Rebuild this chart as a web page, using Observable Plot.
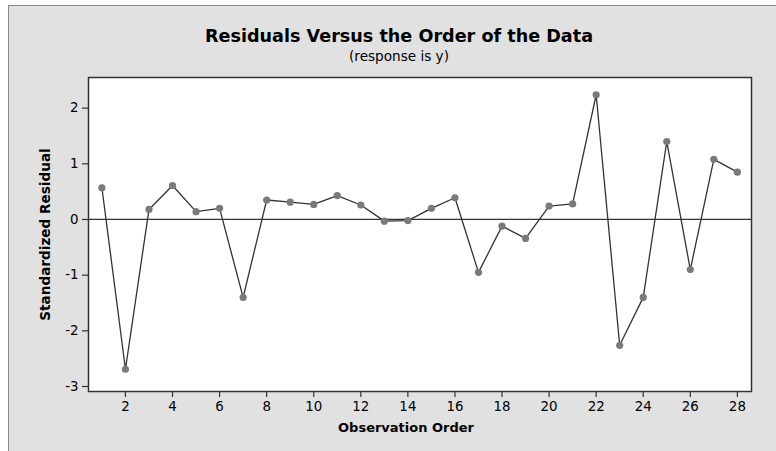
<!DOCTYPE html>
<html>
<head>
<meta charset="utf-8">
<script src="https://cdn.jsdelivr.net/npm/d3@7"></script>
<script src="https://cdn.jsdelivr.net/npm/@observablehq/plot@0.6"></script>
<style>
  html, body { margin: 0; padding: 0; background: #ffffff; overflow: hidden; }
  #frame {
    position: absolute; left: 8px; top: 5px; width: 780px; height: 460px;
    background: #e1e1e1; border-left: 1px solid #8a8a8a; border-top: 1px solid #8a8a8a;
    font-family: "DejaVu Sans", Verdana, sans-serif;
  }
  #titles { height: 60px; position: relative; width: 780px; }
  #title { position: absolute; top: 20px; width: 780px; text-align: center; font-weight: bold; font-size: 17.6px; color: #000; }
  #subtitle { position: absolute; top: 42px; width: 780px; text-align: center; font-size: 13.6px; color: #000; }
  #chart svg { display: block; }
</style>
</head>
<body>
<div id="frame">
  <div id="titles">
    <div id="title">Residuals Versus the Order of the Data</div>
    <div id="subtitle">(response is y)</div>
  </div>
  <div id="chart"></div>
</div>
<script>
const order = [1,2,3,4,5,6,7,8,9,10,11,12,13,14,15,16,17,18,19,20,21,22,23,24,25,26,27,28];
const residual = [0.57,-2.69,0.18,0.61,0.14,0.20,-1.40,0.35,0.31,0.27,0.43,0.26,-0.03,-0.02,0.20,0.39,-0.95,-0.12,-0.34,0.24,0.28,2.24,-2.26,-1.40,1.40,-0.90,1.08,0.85];
const xTicks = [2,4,6,8,10,12,14,16,18,20,22,24,26,28];
const yTicks = [-3,-2,-1,0,1,2];
const xLabel = "Observation Order";
const yLabel = "Standardized Residual";

const data = order.map((o, i) => ({order: o, residual: residual[i]}));

const chart = Plot.plot({
  width: 767,
  height: 380,
  marginLeft: 79,
  marginRight: 25,
  marginTop: 11,
  marginBottom: 55,
  style: {fontFamily: "'DejaVu Sans', Verdana, sans-serif", fontSize: "13px", background: "transparent", color: "#000"},
  x: {domain: [0.43, 28.6]},
  y: {domain: [-3.09, 2.55]},
  marks: [
    Plot.frame({fill: "white", stroke: "none"}),
    Plot.ruleY([0], {stroke: "#333", strokeWidth: 1.2}),
    Plot.line(data, {x: "order", y: "residual", stroke: "#333", strokeWidth: 1.3}),
    Plot.dot(data, {x: "order", y: "residual", r: 3.6, fill: "#7a7a7a", stroke: "none"}),
    Plot.frame({stroke: "#333", strokeWidth: 1.5}),
    Plot.axisX({ticks: xTicks, tickSize: 6, tickPadding: 4, tickFormat: d => String(d), label: null, stroke: "#333", strokeWidth: 1.2, fontSize: 13.4}),
    Plot.axisY({ticks: yTicks, tickSize: 6, tickPadding: 4, tickFormat: d => String(d), label: null, stroke: "#333", strokeWidth: 1.2, fontSize: 13.4}),
    Plot.text([xLabel], {frameAnchor: "bottom", dy: 40, dx: -14, fontWeight: "bold", fontSize: 13, fill: "#000", textAnchor: "middle"}),
    Plot.text([yLabel], {frameAnchor: "left", dx: -43, rotate: -90, fontWeight: "bold", fontSize: 13.6, fill: "#000", textAnchor: "middle"})
  ]
});
document.getElementById("chart").appendChild(chart);
</script>
</body>
</html>
